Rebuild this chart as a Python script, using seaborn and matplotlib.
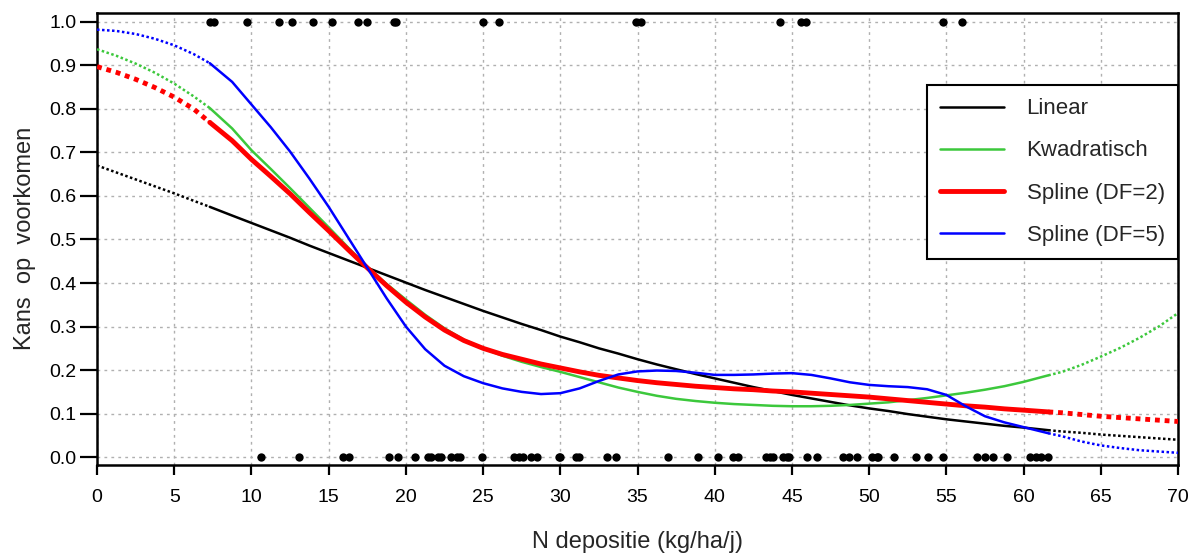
import matplotlib
matplotlib.use("Agg")
import matplotlib.pyplot as plt
from matplotlib.lines import Line2D
import numpy as np
import pandas as pd
import seaborn as sns

# ---------------- data ----------------
x_grid = [0, 1.25, 2.5, 3.75, 5, 6.25, 7.3, 8.75, 10, 11.25, 12.5, 13.75, 15, 16.25,
          17.5, 18.75, 20, 21.25, 22.5, 23.75, 25, 26.25, 27.5, 28.75, 30, 31.25,
          32.5, 33.75, 35, 36.25, 37.5, 38.75, 40, 41.25, 42.5, 43.75, 45, 46.25,
          47.5, 48.75, 50, 51.25, 52.5, 53.75, 55, 56.25, 57.5, 58.75, 60, 61.6,
          62.5, 63.75, 65, 66.25, 67.5, 68.75, 70]

linear = [0.670, 0.654, 0.638, 0.622, 0.606, 0.589, 0.575, 0.555, 0.538, 0.521,
          0.504, 0.486, 0.469, 0.452, 0.435, 0.418, 0.401, 0.384, 0.368, 0.352,
          0.336, 0.321, 0.306, 0.292, 0.277, 0.264, 0.250, 0.238, 0.225, 0.213,
          0.202, 0.191, 0.181, 0.171, 0.161, 0.152, 0.143, 0.135, 0.127, 0.119,
          0.112, 0.106, 0.099, 0.093, 0.087, 0.082, 0.077, 0.072, 0.068, 0.062,
          0.059, 0.056, 0.052, 0.049, 0.046, 0.043, 0.040]

kwadratisch = [0.937, 0.922, 0.904, 0.883, 0.858, 0.829, 0.802, 0.755, 0.705, 0.662,
               0.618, 0.573, 0.528, 0.482, 0.437, 0.398, 0.362, 0.327, 0.296, 0.270,
               0.250, 0.233, 0.219, 0.207, 0.196, 0.184, 0.172, 0.160, 0.150, 0.141,
               0.134, 0.129, 0.125, 0.122, 0.120, 0.118, 0.117, 0.117, 0.118, 0.120,
               0.123, 0.126, 0.131, 0.136, 0.142, 0.148, 0.155, 0.163, 0.173, 0.188,
               0.196, 0.212, 0.231, 0.251, 0.274, 0.300, 0.331]

spline_df2 = [0.897, 0.884, 0.868, 0.849, 0.827, 0.800, 0.769, 0.727, 0.684, 0.645,
              0.605, 0.562, 0.520, 0.477, 0.435, 0.394, 0.356, 0.322, 0.292, 0.268,
              0.250, 0.236, 0.225, 0.214, 0.205, 0.196, 0.188, 0.182, 0.176, 0.171,
              0.167, 0.163, 0.160, 0.157, 0.155, 0.152, 0.150, 0.147, 0.144, 0.141,
              0.138, 0.134, 0.130, 0.126, 0.122, 0.118, 0.115, 0.111, 0.108, 0.104,
              0.102, 0.098, 0.094, 0.091, 0.088, 0.085, 0.082]

spline_df5 = [0.982, 0.979, 0.972, 0.961, 0.946, 0.926, 0.905, 0.862, 0.810, 0.758,
              0.702, 0.640, 0.575, 0.505, 0.435, 0.365, 0.300, 0.248, 0.210, 0.186,
              0.170, 0.158, 0.150, 0.145, 0.147, 0.158, 0.175, 0.190, 0.197, 0.199,
              0.198, 0.194, 0.189, 0.189, 0.190, 0.192, 0.193, 0.189, 0.181, 0.172,
              0.166, 0.163, 0.161, 0.156, 0.143, 0.117, 0.094, 0.080, 0.069, 0.055,
              0.048, 0.036, 0.027, 0.021, 0.016, 0.013, 0.010]

data_min, data_max = 7.3, 61.6

present_x = [7.3, 7.6, 9.7, 11.8, 12.6, 14.0, 15.2, 16.9, 17.5, 19.2, 19.35, 25.0,
             26.0, 34.9, 35.2, 44.2, 45.6, 45.9, 54.8, 56.0]
absent_x = [10.6, 13.1, 15.9, 16.3, 18.9, 19.5, 20.6, 21.4, 21.6, 22.1, 22.3, 22.9,
            23.3, 23.5, 24.9, 27.0, 27.3, 27.6, 28.1, 28.5, 29.9, 30.0, 31.0, 31.2,
            33.0, 33.6, 37.0, 38.9, 40.2, 41.2, 41.5, 43.3, 43.6, 43.8, 44.4, 44.7,
            44.8, 46.0, 46.6, 48.3, 48.7, 49.2, 50.2, 50.5, 50.6, 51.6, 53.0, 53.8,
            54.8, 57.0, 57.5, 58.0, 58.9, 60.4, 60.8, 61.1, 61.6]

series_names = ["Linear", "Kwadratisch", "Spline (DF=2)", "Spline (DF=5)"]
series_vals = [linear, kwadratisch, spline_df2, spline_df5]
series_colors = ["#000000", "#3cc83c", "#ff0000", "#0000ff"]
series_lw = [1.8, 1.8, 3.5, 1.8]

x_ticks = list(range(0, 75, 5))
y_ticks = [round(0.1 * i, 1) for i in range(11)]

# ---------------- plotting ----------------
sns.set_theme(style="white")
plt.rcParams["font.family"] = ["Liberation Sans", "DejaVu Sans"]

fig = plt.figure(figsize=(11.95, 5.53), dpi=100)
ax = fig.add_axes([0.0812, 0.1591, 0.9046, 0.8180])

xg = np.array(x_grid)
handles = []
for name, vals, col, lw in zip(series_names, series_vals, series_colors, series_lw):
    df = pd.DataFrame({"x": xg, "y": np.array(vals)})
    inside = df[(df.x >= data_min) & (df.x <= data_max)]
    left = df[df.x <= data_min]
    right = df[df.x >= data_max]
    sns.lineplot(data=inside, x="x", y="y", color=col, lw=lw, ax=ax,
                 sort=True, estimator=None, zorder=3)
    for part in (left, right):
        sns.lineplot(data=part, x="x", y="y", color=col, lw=lw, ax=ax,
                     sort=True, estimator=None, linestyle=(0, (1, 1)), zorder=3)
    handles.append(Line2D([0], [0], color=col, lw=lw, label=name))

pts = pd.DataFrame({"x": present_x + absent_x,
                    "y": [1.0] * len(present_x) + [0.0] * len(absent_x)})
sns.scatterplot(data=pts, x="x", y="y", color="black", s=36, edgecolor="black",
                linewidth=0, ax=ax, zorder=4, clip_on=False)

ax.set_xlim(0, 70)
ax.set_ylim(-0.018, 1.021)
ax.set_xticks(x_ticks)
ax.set_xticklabels([str(t) for t in x_ticks])
ax.set_yticks(y_ticks)
ax.set_yticklabels([f"{t:.1f}" for t in y_ticks])

ax.grid(True, color="#b0b0b0", linestyle=(0, (2, 3)), linewidth=1.0)
ax.set_axisbelow(True)
for sp in ax.spines.values():
    sp.set_visible(True)
    sp.set_color("black")
    sp.set_linewidth(1.8)

ax.tick_params(axis="x", direction="out", length=7, width=1.6, color="black",
               labelsize=14, pad=10, bottom=True, labelcolor="black")
ax.tick_params(axis="y", direction="out", length=12, width=1.6, color="black",
               labelsize=14, pad=3, left=True, labelcolor="black")

ax.set_xlabel("N depositie (kg/ha/j)", fontsize=17, labelpad=18)
ax.set_ylabel("Kans  op  voorkomen", fontsize=17, labelpad=9)

leg = ax.legend(handles=handles, loc="upper right", bbox_to_anchor=(1.0, 0.840),
                fontsize=16, frameon=True, fancybox=False, framealpha=1,
                edgecolor="black", handlelength=2.9, handletextpad=1.0,
                labelspacing=0.95, borderpad=0.6, borderaxespad=0.0)
leg.get_frame().set_linewidth(1.5)

fig.savefig("out.png", dpi=100)
